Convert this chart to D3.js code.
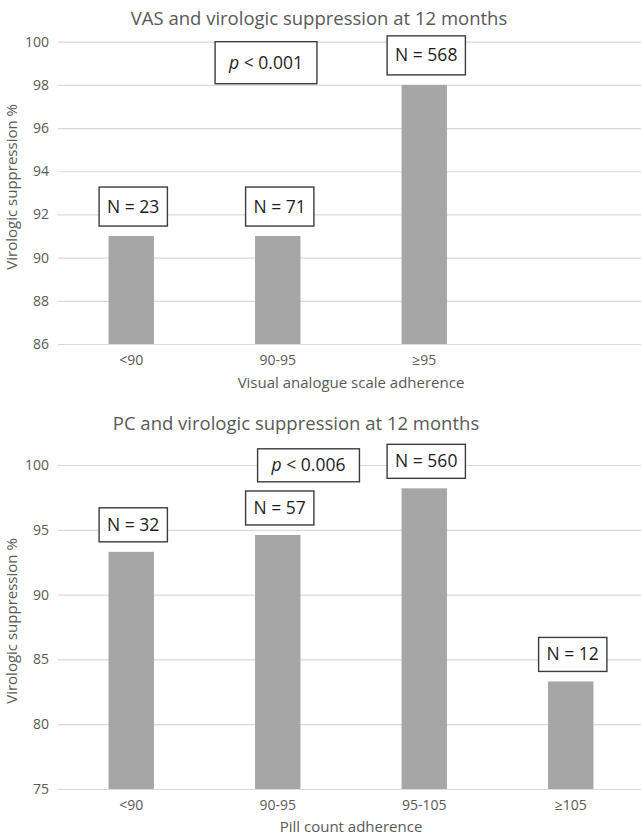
<!DOCTYPE html>
<html>
<head>
<meta charset="utf-8">
<script src="https://cdn.jsdelivr.net/npm/d3@7"></script>
<style>
  body { margin: 0; background: #fff; }
  svg { display: block; font-family: "Open Sans", sans-serif; }
</style>
</head>
<body>
<div id="chart"></div>
<script>
// data
const vasCategories = ["<90", "90-95", "≥95"];
const vasSuppression = [91, 91, 98];
const vasN = [23, 71, 568];
const vasTicks = [86, 88, 90, 92, 94, 96, 98, 100];
const vasP = "0.001";

const pcCategories = ["<90", "90-95", "95-105", "≥105"];
const pcSuppression = [93.3, 94.6, 98.2, 83.3];
const pcN = [32, 57, 560, 12];
const pcTicks = [75, 80, 85, 90, 95, 100];
const pcP = "0.006";

const svgWidth = 641;
const svgHeight = 835;
const slots = 4; // both panels use the same 4-slot band width

const svg = d3.select("#chart")
  .append("svg")
  .attr("width", svgWidth)
  .attr("height", svgHeight);

function drawPanel(cfg) {
  const left = 58, right = 644;
  const step = (right - left) / slots;

  const x = d3.scaleBand()
    .domain(cfg.categories)
    .range([left, left + cfg.categories.length * step])
    .paddingInner(0.69)
    .paddingOuter(0.345);

  const y = d3.scaleLinear()
    .domain([cfg.ticks[0], cfg.ticks[cfg.ticks.length - 1]])
    .range([cfg.bottom, cfg.top]);

  const g = svg.append("g");

  // title
  g.append("text")
    .attr("x", cfg.titleX)
    .attr("y", cfg.titleY)
    .attr("text-anchor", "middle")
    .attr("font-size", 18.5)
    .attr("fill", "#595959")
    .text(cfg.title);

  // y axis with gridlines
  const yAxis = g.append("g")
    .attr("transform", `translate(${left},0)`)
    .call(d3.axisLeft(y).tickValues(cfg.ticks).tickSize(-(svgWidth - left)).tickPadding(9));
  yAxis.select(".domain").remove();
  yAxis.selectAll("line").attr("stroke", "#d9d9d9").attr("stroke-width", 1.2);
  yAxis.selectAll("text")
    .attr("font-size", 14)
    .attr("fill", "#595959")
    .attr("font-family", "Open Sans");

  // bars
  g.selectAll(".bar")
    .data(cfg.categories)
    .enter()
    .append("rect")
    .attr("class", "bar")
    .attr("x", d => x(d))
    .attr("y", (d, i) => y(cfg.values[i]))
    .attr("width", x.bandwidth())
    .attr("height", (d, i) => y(cfg.ticks[0]) - y(cfg.values[i]))
    .attr("fill", "#a6a6a6");

  // x axis (labels only)
  const xAxis = g.append("g")
    .attr("transform", `translate(0,${cfg.bottom})`)
    .call(d3.axisBottom(x).tickSize(0).tickPadding(11));
  xAxis.select(".domain").remove();
  xAxis.selectAll("text")
    .attr("font-size", 14)
    .attr("fill", "#595959")
    .attr("font-family", "Open Sans");

  // axis titles
  g.append("text")
    .attr("x", (left + right) / 2)
    .attr("y", cfg.xTitleY)
    .attr("text-anchor", "middle")
    .attr("font-size", 15)
    .attr("fill", "#595959")
    .text(cfg.xTitle);

  g.append("text")
    .attr("transform", `translate(17,${(cfg.top + cfg.bottom) / 2 - 6}) rotate(-90)`)
    .attr("text-anchor", "middle")
    .attr("font-size", 15)
    .attr("fill", "#595959")
    .text("Virologic suppression %");

  // N boxes above each bar
  cfg.categories.forEach((c, i) => {
    const cx = x(c) + x.bandwidth() / 2 + 2;
    const boxBottom = y(cfg.values[i]) - 10;
    addBox(g, cx, boxBottom - cfg.nHeight, cfg.nHeight, t => t.text("N = " + cfg.n[i]));
  });

  // p value box
  const px = x(cfg.pAt) + x.bandwidth() / 2 + cfg.pShift * step;
  addBox(g, px, y(cfg.pValueTop), cfg.pHeight, t => {
    t.append("tspan").attr("font-style", "italic").text("p");
    t.append("tspan").text(" < " + cfg.p);
  }, 14);
}

function addBox(g, cx, top, h, fill, pad) {
  pad = pad || 8;
  const box = g.append("rect");
  const t = g.append("text")
    .attr("x", cx)
    .attr("y", top + h / 2 + 6)
    .attr("text-anchor", "middle")
    .attr("font-size", 17.5)
    .attr("fill", "#1e1e1e");
  fill(t);
  const w = t.node().getComputedTextLength() + pad * 2;
  box.attr("x", cx - w / 2)
    .attr("y", top)
    .attr("width", w)
    .attr("height", h)
    .attr("fill", "#fff")
    .attr("stroke", "#3c3c3c")
    .attr("stroke-width", 1.4);
}

drawPanel({
  title: "VAS and virologic suppression at 12 months",
  titleX: 319, titleY: 25,
  xTitle: "Visual analogue scale adherence", xTitleY: 388,
  categories: vasCategories, values: vasSuppression, n: vasN, ticks: vasTicks,
  top: 41.7, bottom: 344, nHeight: 39,
  p: vasP, pAt: "90-95", pShift: -0.08, pValueTop: 100, pHeight: 42
});

drawPanel({
  title: "PC and virologic suppression at 12 months",
  titleX: 296, titleY: 430,
  xTitle: "Pill count adherence", xTitleY: 832,
  categories: pcCategories, values: pcSuppression, n: pcN, ticks: pcTicks,
  top: 465, bottom: 789, nHeight: 34,
  p: pcP, pAt: "90-95", pShift: 0.21, pValueTop: 101.25, pHeight: 33
});
</script>
</body>
</html>
